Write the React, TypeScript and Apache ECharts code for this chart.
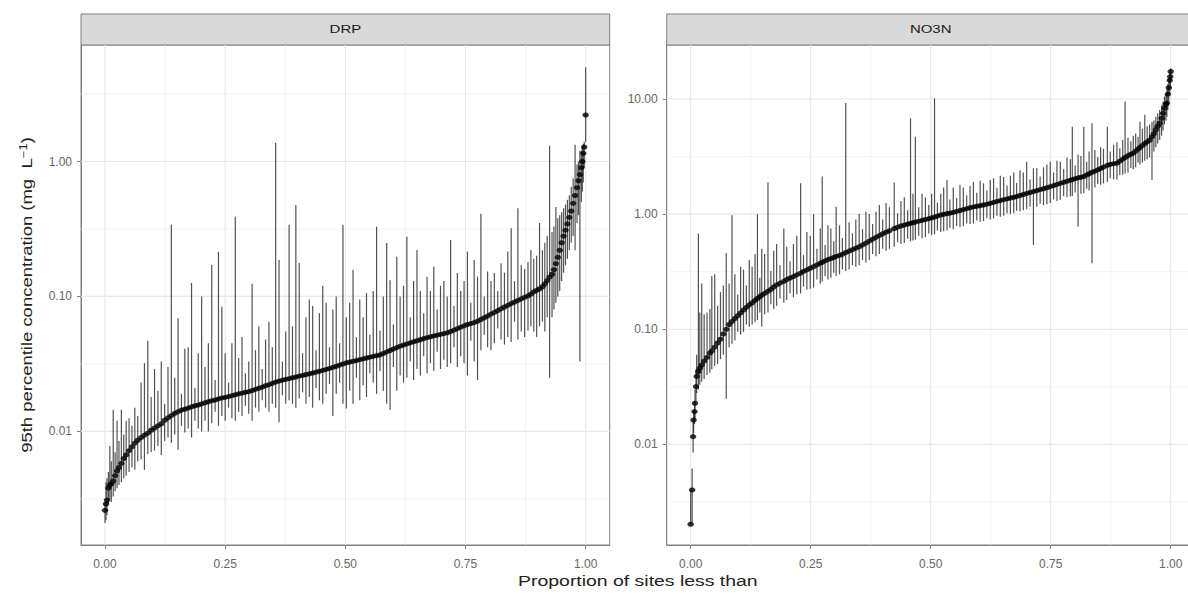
import React, { useEffect, useRef } from 'react';
import * as echarts from 'echarts';

// Each row: [proportion of sites less than, 95th percentile (mg/L), lower, upper]
const drpSites: [number, number, number, number][] = [
  [0.000, 0.0026, 0.0021, 0.0030],
  [0.002, 0.0029, 0.0022, 0.0042],
  [0.004, 0.0031, 0.0024, 0.0045],
  [0.007, 0.0038, 0.0029, 0.0050],
  [0.010, 0.0040, 0.0031, 0.0078],
  [0.013, 0.0041, 0.0030, 0.0060],
  [0.017, 0.0043, 0.0033, 0.0145],
  [0.021, 0.0047, 0.0036, 0.0070],
  [0.025, 0.0051, 0.0038, 0.0120],
  [0.029, 0.0054, 0.0040, 0.0085],
  [0.034, 0.0058, 0.0042, 0.0145],
  [0.039, 0.0063, 0.0045, 0.0095],
  [0.044, 0.0067, 0.0047, 0.0120],
  [0.050, 0.0072, 0.0050, 0.0125],
  [0.056, 0.0077, 0.0054, 0.0110],
  [0.062, 0.0082, 0.0052, 0.0150],
  [0.068, 0.0086, 0.0060, 0.0130],
  [0.075, 0.0090, 0.0062, 0.0230],
  [0.082, 0.0094, 0.0052, 0.0320],
  [0.089, 0.0097, 0.0068, 0.0470],
  [0.096, 0.0102, 0.0070, 0.0180],
  [0.103, 0.0106, 0.0072, 0.0290],
  [0.110, 0.0110, 0.0078, 0.0200],
  [0.117, 0.0114, 0.0067, 0.0330],
  [0.124, 0.0121, 0.0085, 0.0160],
  [0.131, 0.0126, 0.0090, 0.0300],
  [0.138, 0.0131, 0.0082, 0.3400],
  [0.145, 0.0136, 0.0095, 0.0250],
  [0.152, 0.0140, 0.0073, 0.0690],
  [0.159, 0.0144, 0.0110, 0.0190],
  [0.166, 0.0146, 0.0098, 0.0410],
  [0.173, 0.0149, 0.0105, 0.0420],
  [0.180, 0.0152, 0.0090, 0.1260],
  [0.187, 0.0155, 0.0120, 0.0210],
  [0.194, 0.0157, 0.0105, 0.0380],
  [0.201, 0.0160, 0.0100, 0.1000],
  [0.208, 0.0163, 0.0120, 0.0300],
  [0.215, 0.0166, 0.0100, 0.0450],
  [0.222, 0.0169, 0.0115, 0.1710],
  [0.229, 0.0171, 0.0140, 0.0240],
  [0.236, 0.0174, 0.0110, 0.2140],
  [0.243, 0.0177, 0.0130, 0.0840],
  [0.250, 0.0179, 0.0120, 0.0380],
  [0.257, 0.0181, 0.0150, 0.0230],
  [0.264, 0.0184, 0.0125, 0.0450],
  [0.271, 0.0187, 0.0120, 0.3900],
  [0.278, 0.0190, 0.0140, 0.0350],
  [0.285, 0.0192, 0.0130, 0.0500],
  [0.292, 0.0195, 0.0155, 0.0270],
  [0.299, 0.0197, 0.0135, 0.0330],
  [0.306, 0.0201, 0.0120, 0.1240],
  [0.313, 0.0205, 0.0150, 0.0400],
  [0.320, 0.0209, 0.0140, 0.0600],
  [0.327, 0.0213, 0.0170, 0.0290],
  [0.334, 0.0218, 0.0150, 0.0480],
  [0.341, 0.0222, 0.0140, 0.0650],
  [0.348, 0.0227, 0.0160, 0.0420],
  [0.355, 0.0232, 0.0150, 1.3800],
  [0.362, 0.0236, 0.0117, 0.1860],
  [0.369, 0.0240, 0.0185, 0.0330],
  [0.376, 0.0243, 0.0160, 0.0550],
  [0.383, 0.0246, 0.0170, 0.3400],
  [0.390, 0.0250, 0.0160, 0.0600],
  [0.397, 0.0253, 0.0150, 0.4760],
  [0.404, 0.0257, 0.0175, 0.1770],
  [0.411, 0.0260, 0.0195, 0.0380],
  [0.418, 0.0264, 0.0160, 0.0700],
  [0.425, 0.0267, 0.0180, 0.0950],
  [0.432, 0.0271, 0.0150, 0.0850],
  [0.439, 0.0275, 0.0210, 0.0400],
  [0.446, 0.0279, 0.0170, 0.0750],
  [0.453, 0.0283, 0.0160, 0.1200],
  [0.460, 0.0288, 0.0190, 0.0900],
  [0.467, 0.0293, 0.0225, 0.0420],
  [0.474, 0.0298, 0.0130, 0.0800],
  [0.481, 0.0304, 0.0190, 0.1000],
  [0.488, 0.0310, 0.0230, 0.0450],
  [0.495, 0.0316, 0.0160, 0.3400],
  [0.502, 0.0322, 0.0148, 0.0700],
  [0.509, 0.0327, 0.0200, 0.0900],
  [0.516, 0.0331, 0.0160, 0.1570],
  [0.523, 0.0335, 0.0250, 0.0500],
  [0.530, 0.0340, 0.0170, 0.0950],
  [0.537, 0.0345, 0.0220, 0.0700],
  [0.544, 0.0350, 0.0180, 0.1060],
  [0.551, 0.0355, 0.0270, 0.0520],
  [0.558, 0.0360, 0.0230, 0.1100],
  [0.565, 0.0364, 0.0190, 0.3290],
  [0.572, 0.0369, 0.0280, 0.0560],
  [0.579, 0.0378, 0.0200, 0.1000],
  [0.586, 0.0388, 0.0160, 0.2490],
  [0.593, 0.0398, 0.0145, 0.1320],
  [0.600, 0.0408, 0.0300, 0.0620],
  [0.607, 0.0418, 0.0200, 0.1970],
  [0.614, 0.0428, 0.0260, 0.1000],
  [0.621, 0.0437, 0.0230, 0.1200],
  [0.628, 0.0445, 0.0250, 0.2770],
  [0.635, 0.0453, 0.0330, 0.0700],
  [0.642, 0.0462, 0.0240, 0.1300],
  [0.649, 0.0470, 0.0290, 0.2210],
  [0.656, 0.0478, 0.0260, 0.1100],
  [0.663, 0.0487, 0.0360, 0.0750],
  [0.670, 0.0495, 0.0270, 0.1400],
  [0.677, 0.0503, 0.0320, 0.1100],
  [0.684, 0.0510, 0.0280, 0.1660],
  [0.691, 0.0517, 0.0390, 0.0800],
  [0.698, 0.0524, 0.0290, 0.1200],
  [0.705, 0.0531, 0.0340, 0.1300],
  [0.712, 0.0538, 0.0300, 0.1000],
  [0.719, 0.0550, 0.0320, 0.2620],
  [0.726, 0.0563, 0.0420, 0.0850],
  [0.733, 0.0577, 0.0300, 0.1490],
  [0.740, 0.0592, 0.0360, 0.1100],
  [0.747, 0.0606, 0.0320, 0.1300],
  [0.754, 0.0620, 0.0260, 0.2150],
  [0.761, 0.0630, 0.0470, 0.0900],
  [0.768, 0.0640, 0.0330, 0.1860],
  [0.775, 0.0655, 0.0240, 0.1400],
  [0.782, 0.0675, 0.0400, 0.4100],
  [0.789, 0.0695, 0.0520, 0.1000],
  [0.796, 0.0716, 0.0420, 0.1530],
  [0.803, 0.0740, 0.0400, 0.1300],
  [0.810, 0.0762, 0.0450, 0.1490],
  [0.817, 0.0785, 0.0580, 0.1100],
  [0.824, 0.0810, 0.0480, 0.1760],
  [0.831, 0.0835, 0.0440, 0.1500],
  [0.838, 0.0860, 0.0500, 0.2150],
  [0.845, 0.0885, 0.0460, 0.3200],
  [0.852, 0.0910, 0.0650, 0.1300],
  [0.859, 0.0935, 0.0480, 0.4500],
  [0.866, 0.0960, 0.0550, 0.1700],
  [0.873, 0.0985, 0.0500, 0.1600],
  [0.880, 0.1010, 0.0560, 0.1800],
  [0.886, 0.104, 0.060, 0.221],
  [0.892, 0.108, 0.055, 0.190],
  [0.898, 0.111, 0.050, 0.200],
  [0.904, 0.114, 0.060, 0.350],
  [0.910, 0.118, 0.065, 0.220],
  [0.915, 0.124, 0.055, 0.250],
  [0.920, 0.131, 0.070, 0.280],
  [0.925, 0.139, 0.025, 1.310],
  [0.930, 0.146, 0.070, 0.300],
  [0.934, 0.158, 0.080, 0.330],
  [0.938, 0.175, 0.090, 0.460],
  [0.942, 0.195, 0.100, 0.380],
  [0.946, 0.220, 0.110, 0.400],
  [0.950, 0.250, 0.130, 0.420],
  [0.954, 0.280, 0.150, 0.450],
  [0.958, 0.310, 0.170, 0.480],
  [0.962, 0.345, 0.190, 0.520],
  [0.966, 0.385, 0.220, 0.560],
  [0.970, 0.430, 0.250, 0.650],
  [0.974, 0.490, 0.280, 0.750],
  [0.978, 0.560, 0.220, 1.330],
  [0.982, 0.640, 0.350, 0.950],
  [0.985, 0.720, 0.400, 1.000],
  [0.988, 0.800, 0.033, 1.200],
  [0.991, 0.900, 0.500, 1.200],
  [0.993, 1.000, 0.600, 1.300],
  [0.995, 1.150, 0.700, 1.350],
  [0.997, 1.280, 0.900, 1.400],
  [1.000, 2.210, 1.400, 5.000],
];

const no3nSites: [number, number, number, number][] = [
  [0.000, 0.00203, 0.0020, 0.0040],
  [0.003, 0.00403, 0.0021, 0.0062],
  [0.005, 0.0117, 0.0085, 0.0165],
  [0.006, 0.0163, 0.0125, 0.0200],
  [0.008, 0.0193, 0.0150, 0.0240],
  [0.009, 0.0228, 0.0170, 0.0300],
  [0.011, 0.0318, 0.0240, 0.0450],
  [0.0125, 0.0390, 0.0280, 0.0600],
  [0.016, 0.0430, 0.0300, 0.6800],
  [0.019, 0.0460, 0.0330, 0.1400],
  [0.023, 0.0490, 0.0350, 0.2500],
  [0.028, 0.0530, 0.0370, 0.1350],
  [0.034, 0.0570, 0.0400, 0.1400],
  [0.040, 0.0620, 0.0420, 0.1500],
  [0.044, 0.0650, 0.0450, 0.2900],
  [0.050, 0.0700, 0.0480, 0.3000],
  [0.056, 0.0760, 0.0500, 0.1600],
  [0.062, 0.0820, 0.0550, 0.2100],
  [0.068, 0.0910, 0.0600, 0.2400],
  [0.074, 0.1000, 0.0250, 0.4600],
  [0.080, 0.1100, 0.0700, 0.2500],
  [0.086, 0.1170, 0.0750, 0.9800],
  [0.092, 0.1240, 0.0800, 0.3000],
  [0.098, 0.1310, 0.0950, 0.2000],
  [0.104, 0.1390, 0.0900, 0.3500],
  [0.110, 0.1470, 0.0950, 0.3300],
  [0.116, 0.1550, 0.1100, 0.2400],
  [0.122, 0.1630, 0.1050, 0.4000],
  [0.128, 0.1700, 0.1100, 0.3500],
  [0.134, 0.1780, 0.1150, 0.4500],
  [0.139, 0.1850, 0.1200, 1.0000],
  [0.144, 0.1920, 0.1400, 0.2800],
  [0.148, 0.1980, 0.1060, 0.5000],
  [0.154, 0.2050, 0.1350, 0.4500],
  [0.161, 0.2140, 0.1400, 1.8800],
  [0.167, 0.2220, 0.1650, 0.3200],
  [0.173, 0.2330, 0.1500, 0.4800],
  [0.179, 0.2430, 0.1600, 0.5500],
  [0.186, 0.2520, 0.1850, 0.3600],
  [0.194, 0.2610, 0.1700, 0.7500],
  [0.200, 0.2700, 0.1800, 0.5200],
  [0.207, 0.2790, 0.2050, 0.3900],
  [0.214, 0.2870, 0.1900, 0.5500],
  [0.221, 0.2970, 0.2000, 0.6500],
  [0.229, 0.3070, 0.2050, 1.8500],
  [0.235, 0.3180, 0.2350, 0.4400],
  [0.242, 0.3280, 0.2200, 0.7000],
  [0.249, 0.3390, 0.2250, 0.6500],
  [0.256, 0.3500, 0.2300, 1.0000],
  [0.263, 0.3620, 0.2700, 0.5000],
  [0.270, 0.3750, 0.2500, 0.7500],
  [0.274, 0.3820, 0.2600, 2.1200],
  [0.280, 0.3930, 0.2900, 0.5400],
  [0.286, 0.4030, 0.2700, 0.8000],
  [0.292, 0.4110, 0.2800, 0.7500],
  [0.298, 0.4200, 0.3100, 0.5800],
  [0.303, 0.4290, 0.2900, 1.1600],
  [0.310, 0.4380, 0.3000, 0.8000],
  [0.316, 0.4480, 0.3300, 0.6200],
  [0.323, 0.4640, 0.3200, 9.2000],
  [0.330, 0.4770, 0.3300, 0.8500],
  [0.337, 0.4910, 0.3600, 0.6800],
  [0.344, 0.5060, 0.3500, 0.9000],
  [0.351, 0.5210, 0.3600, 1.0000],
  [0.358, 0.5400, 0.4000, 0.7400],
  [0.365, 0.5600, 0.3800, 1.0500],
  [0.372, 0.5830, 0.4000, 1.0000],
  [0.379, 0.6060, 0.4500, 0.8200],
  [0.386, 0.6290, 0.4300, 1.0500],
  [0.393, 0.6510, 0.4500, 1.2000],
  [0.400, 0.6750, 0.5000, 0.9000],
  [0.407, 0.6970, 0.4800, 1.2500],
  [0.414, 0.7170, 0.5000, 1.1500],
  [0.424, 0.7480, 0.5200, 1.8800],
  [0.431, 0.7700, 0.5700, 1.0200],
  [0.438, 0.7890, 0.5500, 1.3000],
  [0.445, 0.8040, 0.5600, 1.4000],
  [0.452, 0.8190, 0.6100, 1.0800],
  [0.458, 0.8320, 0.5800, 6.8000],
  [0.463, 0.8420, 0.5900, 1.5000],
  [0.468, 0.8530, 0.6000, 4.7000],
  [0.475, 0.8680, 0.6500, 1.1500],
  [0.482, 0.8830, 0.6200, 1.5000],
  [0.489, 0.8980, 0.6300, 1.4000],
  [0.496, 0.9130, 0.6800, 1.2000],
  [0.502, 0.9280, 0.6600, 1.5000],
  [0.508, 0.9420, 0.6700, 10.100],
  [0.514, 0.9620, 0.7200, 1.2600],
  [0.521, 0.9820, 0.7000, 1.5000],
  [0.527, 0.9950, 0.7100, 1.7000],
  [0.534, 1.0100, 0.7200, 1.9800],
  [0.540, 1.0200, 0.7600, 1.3400],
  [0.547, 1.0350, 0.7400, 1.7000],
  [0.554, 1.0550, 0.7900, 1.3800],
  [0.561, 1.0750, 0.7700, 1.8000],
  [0.568, 1.0950, 0.7900, 1.7000],
  [0.575, 1.1150, 0.8300, 1.4600],
  [0.582, 1.1350, 0.8200, 1.7500],
  [0.589, 1.1550, 0.8300, 1.9000],
  [0.596, 1.1700, 0.8800, 1.5300],
  [0.603, 1.1850, 0.8600, 1.9500],
  [0.610, 1.2000, 0.8700, 1.8500],
  [0.617, 1.2200, 0.9200, 1.6000],
  [0.624, 1.2400, 0.9000, 1.9800],
  [0.631, 1.2650, 0.9200, 2.0500],
  [0.638, 1.2900, 0.9700, 1.6900],
  [0.645, 1.3100, 0.9500, 2.1500],
  [0.652, 1.3350, 0.9700, 2.1000],
  [0.659, 1.3550, 1.0200, 1.7700],
  [0.666, 1.3800, 1.0000, 2.1500],
  [0.673, 1.4000, 1.0200, 2.3000],
  [0.679, 1.4200, 1.0700, 1.8600],
  [0.686, 1.4500, 1.0600, 2.4000],
  [0.693, 1.4800, 1.0800, 2.3000],
  [0.700, 1.5100, 1.1000, 2.8500],
  [0.707, 1.5400, 1.1600, 2.0000],
  [0.714, 1.5700, 0.5400, 2.5000],
  [0.721, 1.6000, 1.1600, 2.5000],
  [0.728, 1.6300, 1.2300, 2.1200],
  [0.735, 1.6600, 1.2000, 2.5500],
  [0.742, 1.6950, 1.2200, 2.7000],
  [0.749, 1.7300, 1.2500, 2.8500],
  [0.756, 1.7700, 1.3400, 2.3000],
  [0.763, 1.8100, 1.3000, 2.9000],
  [0.770, 1.8500, 1.3300, 2.8500],
  [0.777, 1.8900, 1.4300, 2.4600],
  [0.784, 1.9300, 1.4000, 3.1000],
  [0.791, 1.9700, 1.4200, 3.0000],
  [0.795, 1.9900, 1.4400, 5.7400],
  [0.801, 2.0300, 1.5400, 2.6400],
  [0.807, 2.0650, 0.7800, 3.3000],
  [0.813, 2.0900, 1.5000, 3.2000],
  [0.819, 2.1200, 1.5200, 5.7400],
  [0.825, 2.1900, 1.6600, 2.8500],
  [0.830, 2.2400, 1.6000, 3.5000],
  [0.836, 2.3100, 0.3750, 6.1500],
  [0.842, 2.3600, 1.7000, 3.6000],
  [0.848, 2.4200, 1.8300, 3.1500],
  [0.854, 2.4900, 1.8000, 3.8000],
  [0.860, 2.5600, 1.8500, 3.7000],
  [0.868, 2.6500, 1.9000, 5.7400],
  [0.874, 2.7000, 2.0500, 3.5000],
  [0.881, 2.7400, 2.0000, 4.0000],
  [0.888, 2.7700, 2.0000, 4.2000],
  [0.894, 2.8800, 2.1900, 3.7400],
  [0.900, 3.0000, 2.2000, 4.4000],
  [0.905, 3.1000, 2.2500, 9.5000],
  [0.911, 3.2100, 2.3000, 4.6000],
  [0.917, 3.3100, 2.5200, 4.3000],
  [0.922, 3.3800, 2.4500, 4.8000],
  [0.927, 3.5200, 2.5500, 5.0000],
  [0.932, 3.6700, 2.8000, 4.7000],
  [0.936, 3.8000, 2.7000, 6.3500],
  [0.941, 3.9400, 2.8000, 5.5000],
  [0.946, 4.1000, 2.9000, 7.3000],
  [0.951, 4.2400, 3.0000, 5.8000],
  [0.956, 4.3800, 3.1000, 6.0000],
  [0.961, 4.7000, 1.9800, 6.3000],
  [0.965, 5.0000, 3.5000, 6.5000],
  [0.969, 5.4000, 3.8000, 7.0000],
  [0.973, 5.8000, 4.1000, 7.5000],
  [0.977, 6.1500, 4.4000, 8.0000],
  [0.981, 6.8000, 4.8000, 8.8000],
  [0.984, 7.5000, 5.3000, 9.5000],
  [0.987, 8.3000, 6.0000, 10.500],
  [0.990, 9.0000, 6.5000, 11.000],
  [0.992, 9.2000, 7.0000, 12.000],
  [0.994, 11.000, 8.0000, 13.500],
  [0.996, 12.500, 9.5000, 15.000],
  [0.998, 14.500, 11.000, 16.500],
  [0.999, 15.600, 12.500, 17.500],
  [1.000, 17.300, 14.500, 18.500],
];

const panelNames = ['DRP', 'NO3N'];
const xTicks = [0, 0.25, 0.5, 0.75, 1];
const xMinor = [0.125, 0.375, 0.625, 0.875];
const xLimits = [-0.05, 1.05];
const drpYTicks = [0.01, 0.1, 1];
const no3nYTicks = [0.01, 0.1, 1, 10];
const drpYMinor = [0.00316, 0.0316, 0.316, 3.16];
const no3nYMinor = [0.00316, 0.0316, 0.316, 3.16];
const drpYLimits = [0.00144, 7.3];
const no3nYLimits = [0.00134, 29.4];

const xTitle = 'Proportion of sites less than';

const FONT = '"Liberation Sans", Arial, Helvetica, sans-serif';
const BORDER = '#7f7f7f';

const panels = [
  { name: panelNames[0], sites: drpSites, yTicks: drpYTicks, yMinor: drpYMinor, yLimits: drpYLimits },
  { name: panelNames[1], sites: no3nSites, yTicks: no3nYTicks, yMinor: no3nYMinor, yLimits: no3nYLimits },
];

const gridBoxes = [
  { left: 81, top: 45, width: 528.7, height: 500 },
  { left: 666.7, top: 45, width: 528, height: 500 },
];

function buildOption() {
  const lg = (v: number) => Math.log10(v);
  const grid = gridBoxes.map((g) => ({
    ...g,
    show: true,
    borderColor: BORDER,
    borderWidth: 1,
    backgroundColor: 'rgba(0,0,0,0)',
    containLabel: false,
    outerBoundsMode: 'none',
  }));

  const xAxis = panels.map((_, i) => ({
    gridIndex: i,
    type: 'value',
    min: xLimits[0],
    max: xLimits[1],
    axisLine: { show: true, onZero: false, lineStyle: { color: BORDER, width: 1 } },
    axisTick: { show: true, customValues: xTicks, length: 4, lineStyle: { color: BORDER, width: 1 } },
    axisLabel: {
      customValues: xTicks,
      formatter: (v: number) => v.toFixed(2),
      color: '#666666',
      fontSize: 12,
      fontFamily: FONT,
      margin: 13,
    },
    splitLine: { show: false },
  }));

  const yAxis = panels.map((p, i) => ({
    gridIndex: i,
    type: 'value',
    min: lg(p.yLimits[0]),
    max: lg(p.yLimits[1]),
    axisLine: { show: true, onZero: false, lineStyle: { color: BORDER, width: 1 } },
    axisTick: { show: true, customValues: p.yTicks.map(lg), length: 4, lineStyle: { color: BORDER, width: 1 } },
    axisLabel: {
      customValues: p.yTicks.map(lg),
      formatter: (v: number) => Math.pow(10, v).toFixed(2),
      color: '#666666',
      fontSize: 12,
      fontFamily: FONT,
      margin: 9,
    },
    splitLine: { show: false },
  }));

  const series: any[] = [];
  panels.forEach((p, i) => {
    // vertical grid lines
    series.push({
      type: 'custom',
      xAxisIndex: i,
      yAxisIndex: i,
      z: 1,
      silent: true,
      data: [...xTicks.map((v) => [v, 1]), ...xMinor.map((v) => [v, 0])],
      encode: { x: 0, y: 1 },
      renderItem: (params: any, api: any) => {
        const cs = params.coordSys;
        const x = api.coord([api.value(0), lg(p.yLimits[0])])[0];
        const major = api.value(1) === 1;
        return {
          type: 'line',
          shape: { x1: x, y1: cs.y, x2: x, y2: cs.y + cs.height },
          style: { stroke: major ? '#e8e8e8' : '#f0f0f0', lineWidth: major ? 1.2 : 0.8 },
        };
      },
    });
    // horizontal grid lines
    series.push({
      type: 'custom',
      xAxisIndex: i,
      yAxisIndex: i,
      z: 1,
      silent: true,
      data: [...p.yTicks.map((v) => [1, lg(v)]), ...p.yMinor.map((v) => [0, lg(v)])],
      encode: { x: 0, y: 1 },
      renderItem: (params: any, api: any) => {
        const cs = params.coordSys;
        const y = api.coord([0, api.value(1)])[1];
        const major = api.value(0) === 1;
        return {
          type: 'line',
          shape: { x1: cs.x, y1: y, x2: cs.x + cs.width, y2: y },
          style: { stroke: major ? '#e8e8e8' : '#f0f0f0', lineWidth: major ? 1.2 : 0.8 },
        };
      },
    });
    // error bars
    series.push({
      type: 'custom',
      xAxisIndex: i,
      yAxisIndex: i,
      z: 2,
      silent: true,
      data: p.sites.map((s) => [s[0], lg(s[2]), lg(s[3])]),
      encode: { x: 0, y: [1, 2] },
      renderItem: (_params: any, api: any) => {
        const x = api.value(0);
        const a = api.coord([x, api.value(1)]);
        const b = api.coord([x, api.value(2)]);
        return {
          type: 'line',
          shape: { x1: a[0], y1: a[1], x2: b[0], y2: b[1] },
          style: { stroke: '#262626', lineWidth: 1.2, opacity: 0.8 },
        };
      },
    });
    // points
    series.push({
      type: 'scatter',
      xAxisIndex: i,
      yAxisIndex: i,
      z: 3,
      silent: true,
      symbol: 'circle',
      symbolSize: [6.5, 5],
      itemStyle: { color: '#000000' },
      data: p.sites.map((s) => [s[0], lg(s[1])]),
    });
  });

  const graphic: any[] = [];
  gridBoxes.forEach((g, i) => {
    graphic.push({
      type: 'rect',
      shape: { x: g.left, y: 14, width: g.width, height: 31 },
      style: { fill: '#d9d9d9', stroke: BORDER, lineWidth: 1 },
      silent: true,
    });
    graphic.push({
      type: 'text',
      x: g.left + g.width / 2,
      y: 29.5,
      scaleX: 1.3,
      silent: true,
      style: {
        text: panels[i].name,
        fontSize: 11.5,
        fontFamily: FONT,
        fill: '#1a1a1a',
        align: 'center',
        verticalAlign: 'middle',
      },
    });
  });
  graphic.push({
    type: 'text',
    x: (gridBoxes[0].left + gridBoxes[1].left + gridBoxes[1].width) / 2,
    y: 581,
    scaleX: 1.34,
    silent: true,
    style: {
      text: xTitle,
      fontSize: 14.5,
      fontFamily: FONT,
      fill: '#222222',
      align: 'center',
      verticalAlign: 'middle',
    },
  });
  graphic.push({
    type: 'text',
    x: 27,
    y: gridBoxes[0].top + gridBoxes[0].height / 2,
    rotation: Math.PI / 2,
    scaleX: 1.32,
    silent: true,
    style: {
      text: '{a|95th percentile concentration (mg  L}{b|\u22121}{a|)}',
      align: 'center',
      verticalAlign: 'middle',
      rich: {
        a: { fontSize: 14, fontFamily: FONT, fill: '#222222', lineHeight: 18 },
        b: { fontSize: 10, fontFamily: FONT, fill: '#222222', lineHeight: 10, verticalAlign: 'top' },
      },
    },
  });

  return {
    animation: false,
    backgroundColor: '#ffffff',
    textStyle: { fontFamily: FONT },
    grid,
    xAxis,
    yAxis,
    series,
    graphic,
  };
}

export default function App() {
  const ref = useRef<HTMLDivElement>(null);
  useEffect(() => {
    if (!ref.current) return;
    const chart = echarts.init(ref.current, undefined, { renderer: 'svg' });
    chart.setOption(buildOption() as any);
    return () => chart.dispose();
  }, []);
  return (
    <div
      ref={ref}
      style={{ position: 'fixed', left: 0, top: 0, width: 1188, height: 594, background: '#ffffff' }}
    />
  );
}
